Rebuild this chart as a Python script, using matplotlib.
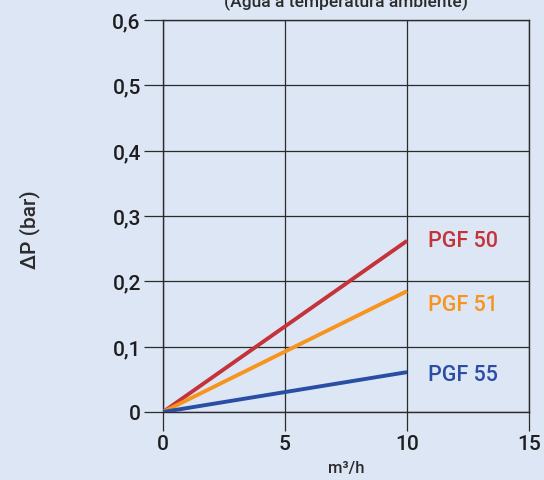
import matplotlib.pyplot as plt

# flow (m3/h) and pressure drop (bar) for each model
flow = [0, 10]
pgf50 = [0, 0.262]
pgf51 = [0, 0.185]
pgf55 = [0, 0.061]
names = ['PGF 50', 'PGF 51', 'PGF 55']
colors = ['#c4333a', '#f7941d', '#2a4ea3']
label_y = [0.262, 0.165, 0.057]

bg = '#dde6f5'
plt.rcParams['font.family'] = ['Roboto', 'DejaVu Sans']

fig = plt.figure(figsize=(5.44, 4.81), dpi=100, facecolor=bg)
ax = fig.add_axes([163 / 544, 1 - 413 / 481, 366 / 544, 392 / 481])
ax.set_facecolor(bg)

for ys, c in zip([pgf50, pgf51, pgf55], colors):
    ax.plot(flow, ys, color=c, lw=2.8, solid_capstyle='butt', zorder=3)
for n, c, yy in zip(names, colors, label_y):
    ax.text(10.85, yy, n, color=c, fontsize=15.5, fontweight='medium', va='center', ha='left')

ax.set_xlim(0, 15)
ax.set_ylim(0, 0.6)
ax.set_xticks([0, 5, 10, 15])
ax.set_yticks([0, 0.1, 0.2, 0.3, 0.4, 0.5, 0.6])
ax.set_yticklabels(['0', '0,1', '0,2', '0,3', '0,4', '0,5', '0,6'])
ax.grid(True, color='#2b2b2b', lw=0.9)
ax.tick_params(direction='out', length=14, width=0.9, color='#2b2b2b',
               labelsize=15, labelcolor='#1e1e1e', pad=2)
for lab in ax.get_xticklabels() + ax.get_yticklabels():
    lab.set_fontweight('medium')
for s in ax.spines.values():
    s.set_color('#2b2b2b')
    s.set_linewidth(1.0)

fig.text(30 / 544, 1 - 230 / 481, 'ΔP (bar)', rotation=90, fontsize=15,
         fontweight='medium', color='#2b2b2b', ha='center', va='center')
fig.text(346 / 544, 1 - 469 / 481, 'm³/h', fontsize=12, fontweight='medium',
         color='#2b2b2b', ha='center', va='center')
fig.text(346 / 544, 1 - 1 / 481, '(Água a temperatura ambiente)', fontsize=12.5,
         fontweight='medium', color='#2b2b2b', ha='center', va='center')

fig.savefig('out.png', dpi=100, facecolor=bg)
